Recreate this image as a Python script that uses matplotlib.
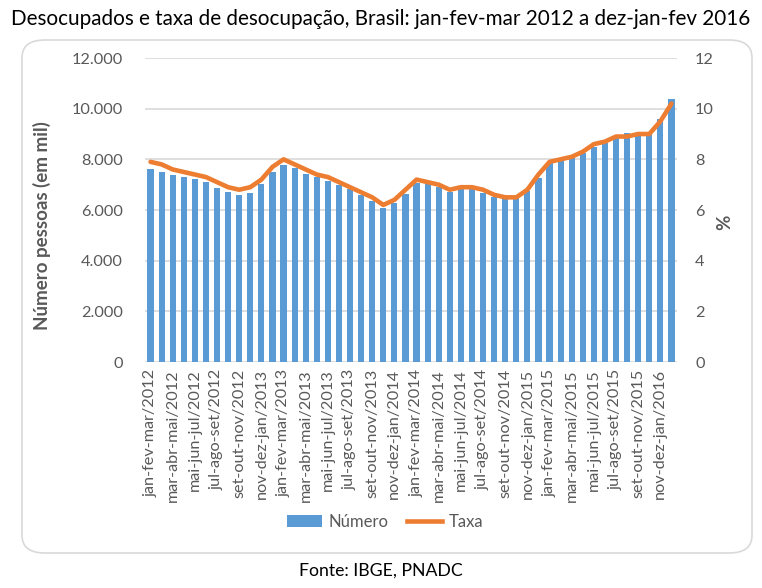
import numpy as np
import matplotlib
matplotlib.use("Agg")
import matplotlib.pyplot as plt
from matplotlib.patches import FancyBboxPatch, Patch
from matplotlib.lines import Line2D
from matplotlib.ticker import FuncFormatter

plt.rcParams['font.family'] = ['Lato', 'DejaVu Sans']

# rolling quarters, jan-fev-mar/2012 .. dez-jan-fev/2016
trimestres = ['jan-fev-mar', 'fev-mar-abr', 'mar-abr-mai', 'abr-mai-jun',
              'mai-jun-jul', 'jun-jul-ago', 'jul-ago-set', 'ago-set-out',
              'set-out-nov', 'out-nov-dez', 'nov-dez-jan', 'dez-jan-fev']
anos = [2012, 2013, 2014, 2015]
labels = []
for a in anos:
    for i, t in enumerate(trimestres):
        labels.append(f"{t}/{a + 1 if i >= 10 else a}")

# desocupados (mil pessoas)
numero = [7604, 7485, 7366, 7287, 7208, 7089, 6852, 6693, 6574, 6654, 7010, 7485,
          7762, 7644, 7406, 7287, 7129, 6970, 6812, 6574, 6337, 6060, 6258, 6614,
          7050, 7010, 6918, 6720, 6852, 6852, 6680, 6522, 6456, 6482, 6746, 7274,
          7842, 7960, 8040, 8238, 8502, 8660, 8858, 9056, 9056, 8990, 9610, 10376]

# taxa de desocupacao (%)
taxa = [7.9, 7.8, 7.6, 7.5, 7.4, 7.3, 7.1, 6.9, 6.8, 6.9, 7.2, 7.7,
        8.0, 7.8, 7.6, 7.4, 7.3, 7.1, 6.9, 6.7, 6.5, 6.2, 6.4, 6.8,
        7.2, 7.1, 7.0, 6.8, 6.9, 6.9, 6.8, 6.6, 6.5, 6.5, 6.8, 7.4,
        7.9, 8.0, 8.1, 8.3, 8.6, 8.7, 8.9, 8.9, 9.0, 9.0, 9.5, 10.2]

azul = '#5B9BD5'
laranja = '#ED7D31'
cinza = '#595959'

fig = plt.figure(figsize=(7.62, 5.88), dpi=100)

# rounded frame around the chart
box = FancyBboxPatch((22 / 762, 1 - 553 / 588), 730 / 762, 513 / 588,
                     boxstyle="round,pad=0,rounding_size=0.03",
                     transform=fig.transFigure, facecolor='white',
                     edgecolor='#D9D9D9', linewidth=1.2, zorder=-5)
fig.patches.append(box)

ax = fig.add_axes([145 / 762, 1 - 362 / 588, 532 / 762, 304 / 588])
ax.set_facecolor('none')
x = np.arange(len(numero))
ax.bar(x, numero, width=0.55, color=azul, zorder=2)
ax.set_xlim(-0.5, len(numero) - 0.5)
ax.set_ylim(0, 12000)
ax.set_yticks(np.arange(0, 12001, 2000))
ax.yaxis.set_major_formatter(FuncFormatter(lambda v, p: f"{int(v):,}".replace(',', '.')))
ax.grid(axis='y', color='#D9D9D9', linewidth=1.2, zorder=0)
ax.set_axisbelow(True)
for s in ax.spines.values():
    s.set_visible(False)
ax.set_xticks(x[::2])
ax.set_xticklabels(labels[::2], rotation=90, color=cinza)
ax.tick_params(axis='both', length=0, colors=cinza, labelsize=11.7)
ax.tick_params(axis='y', pad=16)
ax.tick_params(axis='x', pad=5)
ax.set_ylabel('Número pessoas (em mil)', fontsize=13.5, fontweight='bold', color=cinza)
ax.yaxis.set_label_coords((51 - 145) / 532, (362 - 226) / 304)

ax2 = ax.twinx()
ax2.plot(x, taxa, color=laranja, linewidth=3.3, solid_capstyle='round', zorder=3)
ax2.set_ylim(0, 12)
ax2.set_yticks(np.arange(0, 13, 2))
for s in ax2.spines.values():
    s.set_visible(False)
ax2.tick_params(axis='y', length=0, colors=cinza, labelsize=11.7, pad=13)
ax2.set_ylabel('%', fontsize=13.5, fontweight='bold', color=cinza)
ax2.yaxis.set_label_coords((716 - 145) / 532, (362 - 222) / 304)

handles = [Patch(facecolor=azul, label='Número'),
           Line2D([0], [0], color=laranja, linewidth=3.3, label='Taxa')]
fig.legend(handles=handles, loc='center', bbox_to_anchor=(385 / 762, 1 - 522 / 588),
           ncol=2, frameon=False, fontsize=12, labelcolor=cinza,
           handlelength=2.1, handletextpad=0.4, columnspacing=1.1)

fig.text(381 / 762, 1 - 19 / 588,
         'Desocupados e taxa de desocupação, Brasil: jan-fev-mar 2012 a dez-jan-fev 2016',
         ha='center', va='center', fontsize=14.9, color='black')
fig.text(381 / 762, 1 - 571 / 588, 'Fonte: IBGE, PNADC', ha='center', va='center',
         fontsize=12.7, color='black')

fig.savefig('out.png', dpi=100)
